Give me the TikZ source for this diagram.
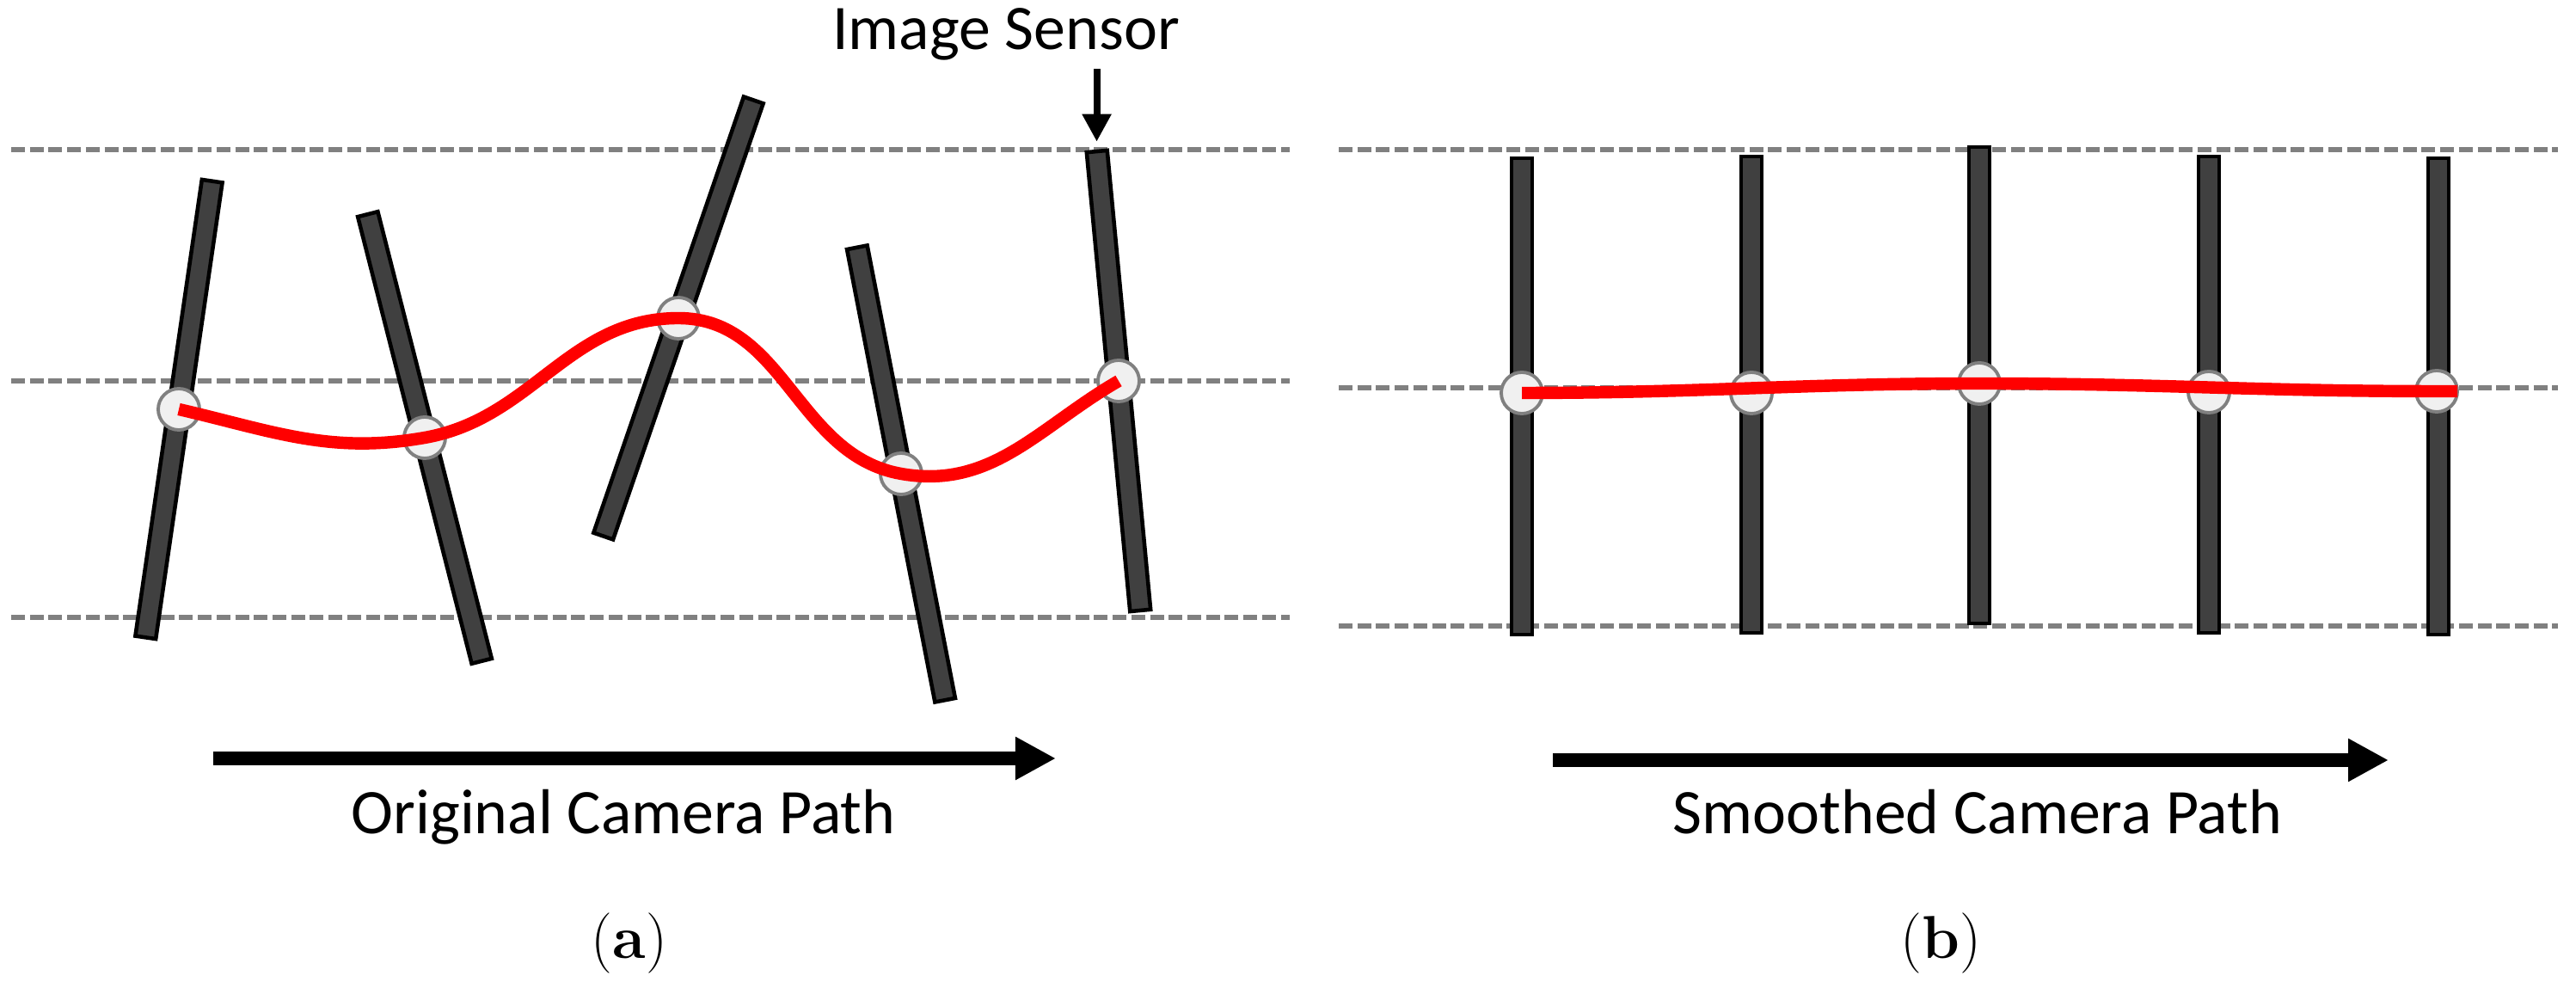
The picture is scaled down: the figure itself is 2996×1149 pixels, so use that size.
\documentclass[tikz,border=0pt]{standalone}
\usepackage{fontspec}
\setsansfont{Carlito}
\usepackage{tikz}
\usetikzlibrary{arrows.meta}
\definecolor{sensorgray}{HTML}{404040}
\definecolor{guidegray}{HTML}{808080}
\definecolor{jointfill}{HTML}{F0F0F0}

\begin{document}
\begin{tikzpicture}[x=0.01cm,y=0.01cm,>={Triangle[length=0.47cm,width=0.47cm]},
  guide/.style={guidegray,line width=1.6pt,dash pattern=on 0.16cm off 0.057cm},
  sensor/.style={draw,fill=sensorgray,line width=1.3pt,inner sep=0pt,minimum width=0.24cm,minimum height=5.36cm},
  joint/.style={circle,draw=guidegray,fill=jointfill,line width=1.1pt,inner sep=0pt,minimum size=0.48cm},
  campath/.style={red,line width=4.1pt},
  pathaxis/.style={->,line width=4.6pt},
  pointer/.style={-{Triangle[length=0.32cm,width=0.32cm]},line width=2.3pt},
  caption/.style={font=\sffamily\fontsize{21}{25}\selectfont,inner sep=0pt,anchor=base},
  sublabel/.style={font=\fontsize{20}{24}\selectfont,inner sep=0pt}]

  \useasboundingbox (0,0) rectangle (2996,1149);

  \foreach \y in {975,706,431} \draw[guide] (13,\y) -- (1500,\y);
  \foreach \y in {975,698,421} \draw[guide] (1557,\y) -- (2975,\y);

  % (a) original path
  \node[sensor,rotate=-8.3] (s1) at (208,673) {};
  \node[sensor,rotate=14.3] (s2) at (494,640) {};
  \node[sensor,rotate=-19]  (s3) at (789,779) {};
  \node[sensor,rotate=11]   (s4) at (1048,598) {};
  \node[sensor,rotate=5.4]  (s5) at (1301,706) {};
  \foreach \i in {1,...,5} \node[joint] (c\i) at (s\i) {};

  \draw[campath] (c1.center) to[out=-13,in=190] (c2.center)
        to[out=10,in=180] (c3.center)
        to[out=0,in=170] (c4.center)
        to[out=-10,in=210] (c5.center);

  \node[caption] (lbl) at (1170,1091) {Image Sensor};
  \draw[pointer] ([yshift=-0.09cm]lbl.south -| s5.north) -- ([yshift=0.09cm]s5.north);

  \coordinate (a0) at (248,267);
  \coordinate (a1) at (1228,267);
  \draw[pathaxis] (a0) -- (a1);
  \node[caption] (orig) at (725,179) {Original Camera Path};
  \node[sublabel] (suba) at (732,52) {(\textbf{a})};

  % (b) smoothed path
  \node[sensor,minimum height=5.54cm] (t1) at (1770,688) {};
  \node[sensor,minimum height=5.54cm] (t2) at (2037,690) {};
  \node[sensor,minimum height=5.54cm] (t3) at (2302,701) {};
  \node[sensor,minimum height=5.54cm] (t4) at (2569,690) {};
  \node[sensor,minimum height=5.54cm] (t5) at (2836,688) {};
  \node[joint] (d1) at (1770,692) {};
  \node[joint] (d2) at (2037,692) {};
  \node[joint] (d3) at (2302,703) {};
  \node[joint] (d4) at (2569,693) {};
  \node[joint] (d5) at (2834,694) {};

  \draw[campath] (d1.center) to[out=0,in=180] (d3.center)
        to[out=0,in=180] (d5.center) -- ++(24,0);

  \coordinate (b0) at (1806,265);
  \coordinate (b1) at (2778,265);
  \draw[pathaxis] (b0) -- (b1);
  \node[caption] (smooth) at (2300,179) {Smoothed Camera Path};
  \node[sublabel] (subb) at (2257,52) {(\textbf{b})};
\end{tikzpicture}
\end{document}
